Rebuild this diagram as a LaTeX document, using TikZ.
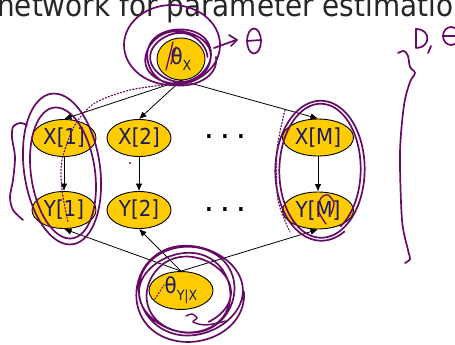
\documentclass[tikz,border=0pt]{standalone}
\usepackage{fontspec}
\setmainfont{DejaVu Sans}[FakeStretch=0.9]
\usetikzlibrary{shapes.geometric,arrows.meta}
\definecolor{nodefill}{HTML}{FFCC00}
\definecolor{nodetext}{HTML}{1A1A66}
\definecolor{ink}{HTML}{660A66}
\newcommand{\subtxt}[1]{\raisebox{-0.3em}{\fontsize{14}{14}\selectfont #1}}

\begin{document}
\begin{tikzpicture}[x=1pt,y=-1pt,
  var/.style={ellipse, draw=black, line width=0.9pt, fill=nodefill, inner sep=0pt,
              minimum width=64pt, minimum height=37pt, text=nodetext,
              font=\fontsize{22}{22}\selectfont},
  edge/.style={draw=black, line width=0.8pt, -{Latex[length=7.5pt,width=6.5pt]}},
  pen/.style={draw=ink, line width=1.7pt, line cap=round, line join=round},
  penfine/.style={draw=ink, line width=1.2pt, dotted, line cap=round},
]
\useasboundingbox (0,0) rectangle (455,345);
\clip (0,0) rectangle (455,345);

% heading (cut off by the frame)
\node[anchor=base west, inner sep=0pt, font=\fontsize{31}{31}\selectfont, text=black!85]
  (title) at (-3,16.5) {network for parameter estimation};

% variables
\node[var, minimum width=48pt, minimum height=42pt] (tx) at (181,59) {θ\subtxt{X}};
\node[var] (x1) at (64,138) {X[1]};
\node[var] (x2) at (139,138) {X[2]};
\node[var, minimum width=71pt] (xm) at (318,137.5) {X[M]};
\node[var] (y1) at (64,210) {Y[1]};
\node[var] (y2) at (139,210) {Y[2]};
\node[var, minimum width=71pt] (ym) at (318,210.5) {Y[M]};
\node[var] (tyx) at (181,290.5) {θ\subtxt{Y|X}};

% ellipsis columns
\node[anchor=base, inner sep=0pt, font=\fontsize{21}{21}\selectfont\bfseries] (dx) at (225,138) {. . .};
\node[anchor=base, inner sep=0pt, font=\fontsize{21}{21}\selectfont\bfseries] (dy) at (225,211) {. . .};

% dependencies
\draw[edge] (tx.south) -- (x1.north);
\draw[edge] (tx.south) -- (x2.north);
\draw[edge] (tx.south) -- (xm.north);
\draw[edge] (x1) -- (y1);
\draw[edge] (x2) -- (y2);
\draw[edge] (xm) -- (ym);
\draw[edge] (tyx.north) -- (y1.south);
\draw[edge] (tyx.north) -- (y2.south);
\draw[edge] (tyx.north) -- (ym.south);

% ---- handwritten ink ----
% loops around theta_X
\draw[pen] plot[domain=30:400, samples=70, smooth] ({172+48*cos(\x)}, {45+40*sin(\x)});
\draw[pen] plot[domain=0:1080, samples=160, smooth]
  ({179+(37-0.009*\x+2*sin(1.7*\x))*cos(\x)+2*sin(\x/2)}, {57+(29-0.005*\x)*sin(\x)});
\draw[pen, line width=1.3pt] (166,70) -- (173,42);
\draw[pen, line width=1.3pt] (171,64) -- (176,47);
% arrow to theta
\draw[pen] (214,48) -- (236,40);
\draw[pen] (229,35) -- (237,40) -- (231,46);
\draw[pen] (254,41) ellipse [x radius=7, y radius=12.5];
\draw[pen] (247,41) -- (261,40);

% D, theta
\draw[pen] (416,29) -- (416,48);
\draw[pen] (416,29) .. controls (431,29) and (431,47) .. (417,48);
\draw[pen] (431,46) -- (428,53);
\draw[pen] (451,36) ellipse [x radius=8, y radius=9];
\draw[pen] (443,36) -- (459,36);
% brace
\draw[pen] plot[smooth] coordinates {(398,53) (404,51) (408,56) (410,67) (415,73) (410,82)
  (404,105) (400,153) (402,220) (408,250) (410,259) (405,263)};

% first column
\draw[pen] plot[domain=60:440, samples=90, smooth]
  ({62+38*cos(\x)*cos(-8)-76*sin(\x)*sin(-8)}, {169+38*cos(\x)*sin(-8)+76*sin(\x)*cos(-8)});
\draw[pen] plot[domain=100:470, samples=90, smooth]
  ({63+32*cos(\x)*cos(-8)-66*sin(\x)*sin(-8)}, {173+32*cos(\x)*sin(-8)+66*sin(\x)*cos(-8)});
\draw[pen] plot[smooth] coordinates {(27,125) (20,123) (13,127) (12,138) (15,157) (13,180)
  (10,197) (13,210) (23,220)};
\draw[penfine] plot[smooth] coordinates {(172,84) (130,90) (95,103) (75,125) (62,160) (62,190) (68,222)};
\fill[ink] (130,163) circle (1.2);

% last column
\draw[pen] plot[domain=60:780, samples=150, smooth]
  ({321+(47-0.0111*(\x-60))*cos(\x)}, {170+(71-0.0083*(\x-60))*sin(\x)});
\draw[penfine] plot[smooth] coordinates {(285,110) (277,150) (278,200) (290,232)};
\draw[pen, line width=1.3pt] plot[smooth] coordinates {(326,224) (318,210) (321,198) (328,195) (334,203) (331,214)};

% loops around theta_Y|X
\draw[pen] plot[domain=0:1500, samples=240, smooth]
  ({188+(56-0.011*\x+3*sin(1.3*\x))*cos(\x)}, {292+(49-0.009*\x+2*sin(0.7*\x))*sin(\x)});
\draw[pen, line width=1.4pt] plot[smooth] coordinates {(186,316) (192,314) (197,318) (193,322) (206,325) (226,321)};
\draw[penfine] (155,299) -- (164,285);
\end{tikzpicture}
\end{document}
